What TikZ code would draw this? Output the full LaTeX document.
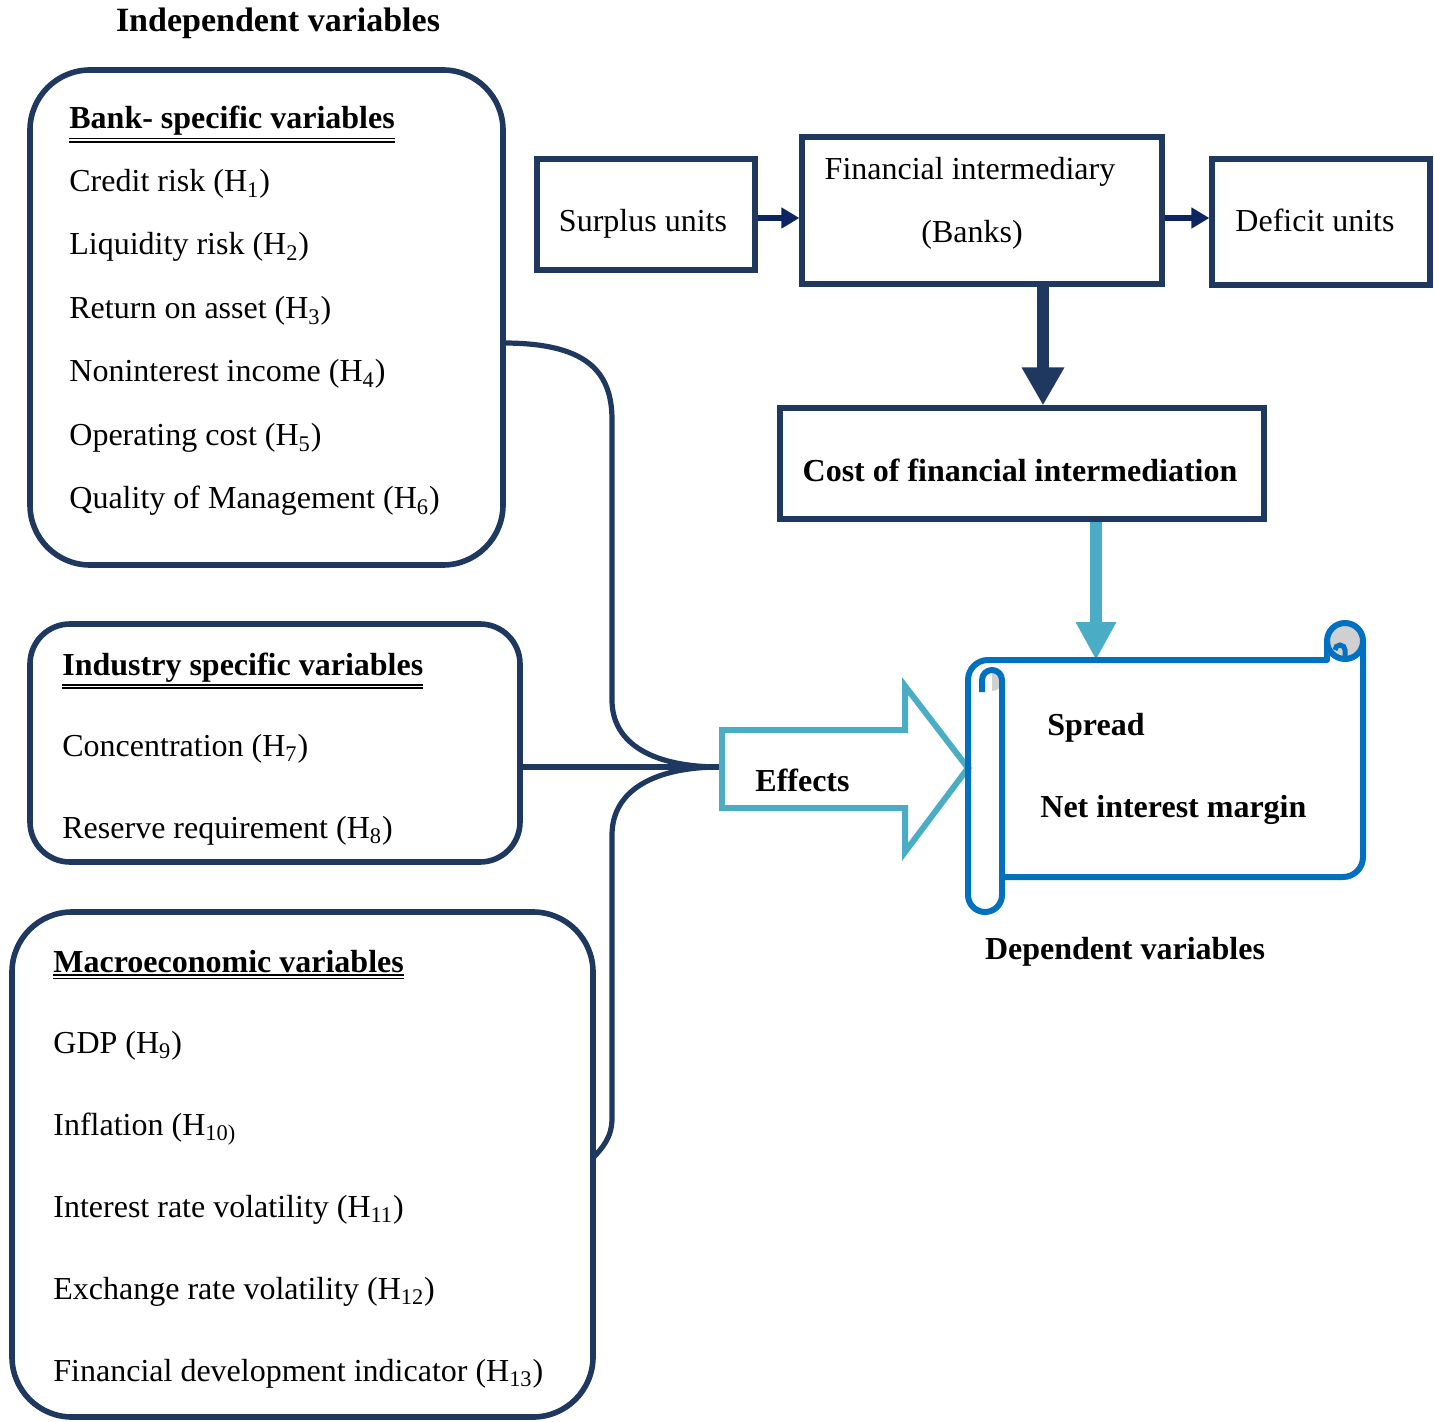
\documentclass[tikz,border=0pt]{standalone}
\usepackage{fontspec}
\setmainfont{Liberation Serif}
\usetikzlibrary{arrows.meta,fit}
\definecolor{navy}{RGB}{31,56,96}
\definecolor{darrow}{RGB}{12,36,96}
\definecolor{lblue}{RGB}{75,172,198}
\definecolor{sblue}{RGB}{0,112,192}
\definecolor{sgray}{RGB}{208,208,208}
\newcommand{\dul}[1]{\leavevmode\vtop{\hbox{#1}\kern1pt\hrule height0.8pt\kern0.9pt\hrule height0.8pt}}
\newcommand{\Hs}[1]{(H\textsubscript{#1})}
\begin{document}
\begin{tikzpicture}[x=0.5pt,y=-0.5pt,
  every node/.style={inner sep=0pt, font=\fontsize{16}{19}\selectfont},
  lt/.style={anchor=base west},
  ct/.style={anchor=base},
  bd/.style={font=\fontsize{16}{19}\selectfont\bfseries},
  grp/.style={draw=navy, line width=2.8pt, inner sep=0pt},
  sq/.style={draw=navy, line width=2.6pt, inner sep=0pt},
  conn/.style={draw=navy, line width=2.6pt},
]
\useasboundingbox (0,0) rectangle (1434,1422);

% title
\node[ct, font=\fontsize{17}{20}\selectfont\bfseries] (indep) at (278,32) {Independent variables};

% bank-specific box
\node[grp, rounded corners=30pt, fit={(30,70) (503,565)}] (bank) {};
\node[lt, bd] (bankh) at (69,129) {\dul{Bank- specific variables}};
\node[lt] (b1) at (69,192) {Credit risk \Hs{1}};
\node[lt] (b2) at (69,255) {Liquidity risk \Hs{2}};
\node[lt] (b3) at (69,319) {Return on asset \Hs{3}};
\node[lt] (b4) at (69,382) {Noninterest income \Hs{4}};
\node[lt] (b5) at (69,446) {Operating cost \Hs{5}};
\node[lt] (b6) at (69,509) {Quality of Management \Hs{6}};

% industry box
\node[grp, rounded corners=20pt, fit={(30,624) (520,862)}] (industry) {};
\node[lt, bd] (indh) at (62,675) {\dul{Industry specific variables}};
\node[lt] (i1) at (62,756) {Concentration \Hs{7}};
\node[lt] (i2) at (62,838) {Reserve requirement \Hs{8}};

% macro box
\node[grp, rounded corners=30pt, fit={(12,912) (593,1417)}] (macro) {};
\node[lt, bd] (mach) at (53,972) {\dul{Macroeconomic variables}};
\node[lt] (m1) at (53,1053) {GDP \Hs{9}};
\node[lt] (m2) at (53,1135) {Inflation (H\textsubscript{10)}};
\node[lt] (m3) at (53,1217) {Interest rate volatility \Hs{11}};
\node[lt] (m4) at (53,1299) {Exchange rate volatility \Hs{12}};
\node[lt] (m5) at (53,1381) {Financial development indicator \Hs{13}};

% brace connector
\coordinate (tip) at (720,767);
\coordinate (bt) at (503,343);
\coordinate (mb) at (593,1158);
\draw[conn] (bt) .. controls (585,343) and (612,370) .. (612,420) -- (612,700)
  .. controls (612,745) and (655,767) .. (tip);
\draw[conn] (tip) .. controls (655,767) and (612,790) .. (612,835) -- (612,1118)
  .. controls (612,1138) and (602,1148) .. (mb);
\draw[conn] (industry.east |- tip) -- (tip);

% top flow
\coordinate (yar) at (0,218);
\node[sq, fit={(537,159) (755,270)}] (surplus) {};
\node[ct] (surplust) at (643,232) {Surplus units};
\node[sq, fit={(802,137) (1162,284)}] (fi) {};
\node[ct] (fit1) at (970,180) {Financial intermediary};
\node[ct] (fit2) at (972,243) {(Banks)};
\node[sq, fit={(1212,159) (1430,285)}] (deficit) {};
\node[ct] (deficitt) at (1315,232) {Deficit units};
\draw[darrow, line width=2.6pt, -{Triangle[length=9pt,width=10pt]}] (surplus.east |- yar) -- (fi.west |- yar);
\draw[darrow, line width=2.6pt, -{Triangle[length=9pt,width=10pt]}] (fi.east |- yar) -- (deficit.west |- yar);

% cost box
\node[sq, fit={(780,408) (1264,519)}] (cost) {};
\node[ct, bd] (costt) at (1020,482) {Cost of financial intermediation};
\coordinate (ax) at (1043,0);
\draw[navy, line width=6pt, -{Triangle[length=19pt,width=20pt]}] (fi.south -| ax) -- (cost.north -| ax);

% arrow to scroll
\coordinate (bx) at (1096,0);
\coordinate (stop) at (1096,660);
\draw[lblue, line width=6pt, -{Triangle[length=19pt,width=19pt]}] (cost.south -| bx) -- (stop);

% effects arrow
\draw[lblue, line width=3pt, line join=miter] (722,730) -- (905,730) -- (905,686) -- (968,768)
  -- (905,852) -- (905,808) -- (722,808) -- cycle;
\node[lt, bd] (eff) at (755,791) {Effects};

% scroll
\fill[sgray] (1345,641) circle[radius=18];
\fill[sgray] (992,669) arc[start angle=-90, end angle=90, radius=11] -- cycle;
\draw[sblue, line width=3pt, line join=round]
  (1327,641) -- (1327,660) -- (988,660) arc[start angle=270, end angle=180, radius=20]
  -- (968,895) arc[start angle=180, end angle=0, radius=17]
  -- (1002,680) arc[start angle=0, end angle=-180, radius=10] -- (982,692);
\draw[sblue, line width=3pt] (1345,641) circle[radius=18];
\draw[sblue, line width=3pt, line join=round]
  (1363,641) -- (1363,857) arc[start angle=0, end angle=90, radius=20] -- (1002,877);
\draw[sblue, line width=2.5pt] (1345,659) -- (1345,650) arc[start angle=0, end angle=-180, radius=5];
\node[lt, bd] (spread) at (1047,735) {Spread};
\node[lt, bd] (nim) at (1040,817) {Net interest margin};
\node[ct, bd] (dep) at (1125,959) {Dependent variables};
\end{tikzpicture}
\end{document}
